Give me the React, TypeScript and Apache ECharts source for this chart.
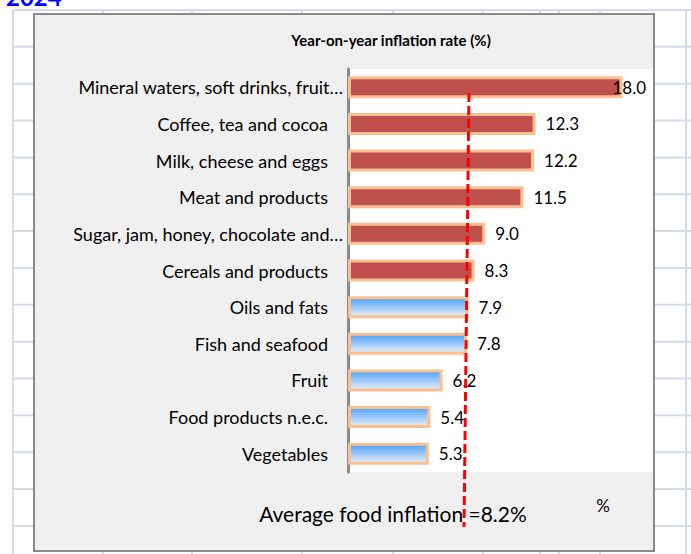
import React, { useEffect, useRef } from "react";
import * as echarts from "echarts";

const categories = [
  "Mineral waters, soft drinks, fruit…",
  "Coffee, tea and cocoa",
  "Milk, cheese and eggs",
  "Meat and products",
  "Sugar, jam, honey, chocolate and…",
  "Cereals and products",
  "Oils and fats",
  "Fish and seafood",
  "Fruit",
  "Food products n.e.c.",
  "Vegetables",
];
const values = [18.0, 12.3, 12.2, 11.5, 9.0, 8.3, 7.9, 7.8, 6.2, 5.4, 5.3];
const averageInflation = 8.2;
const chartTitle = "Year-on-year inflation rate (%)";
const footerText = `Average food inflation =${averageInflation.toFixed(1)}%`;
const unitText = "%";
const sheetTitle = "2024";

const FONT = "Lato, 'Open Sans', sans-serif";
const W = 691;
const H = 554;

export default function App() {
  const ref = useRef<HTMLDivElement>(null);
  useEffect(() => {
    if (!ref.current) return;
    const chart = echarts.init(ref.current, undefined, { renderer: "svg" });

    // spreadsheet background grid lines
    const gridColor = "#d5dce9";
    const rowYs: number[] = [];
    for (let i = 0; i < 15; i++) rowYs.push(10 + i * 36.85);
    const colXs = [13, 103, 192, 302, 393, 483, 540, 559, 600, 686];
    const bg: any[] = [];
    rowYs.forEach((y) =>
      bg.push({
        type: "line",
        z: 0,
        silent: true,
        shape: { x1: 13, y1: y, x2: W, y2: y },
        style: { stroke: gridColor, lineWidth: 2 },
      })
    );
    colXs.forEach((x) =>
      bg.push({
        type: "line",
        z: 0,
        silent: true,
        shape: { x1: x, y1: 10, x2: x, y2: H },
        style: { stroke: gridColor, lineWidth: 2 },
      })
    );

    const maxVal = Math.max(...values);
    const data = values.map((v) => {
      const above = v > averageInflation;
      return {
        value: v,
        itemStyle: {
          color: above
            ? "#c0504d"
            : new echarts.graphic.LinearGradient(0, 0, 0, 1, [
                { offset: 0, color: "#4aa2fb" },
                { offset: 1, color: "#eceef5" },
              ]),
        },
        label: v === maxVal ? { offset: [-20, 0] } : undefined,
      };
    });

    chart.setOption({
      animation: false,
      backgroundColor: "#ffffff",
      graphic: [
        ...bg,
        {
          type: "text",
          z: 0,
          silent: true,
          x: 6,
          y: 8,
          style: {
            text: sheetTitle,
            fill: "#0000ff",
            font: `bold 24px ${FONT}`,
            verticalAlign: "bottom",
          },
        },
        {
          type: "rect",
          z: 0,
          silent: true,
          shape: { x: 34, y: 14, width: 620, height: 537 },
          style: { fill: "#f0f0f0", stroke: "#8a8a8a", lineWidth: 2 },
        },
        {
          type: "text",
          z: 100,
          silent: true,
          x: 391,
          y: 40,
          style: {
            text: chartTitle,
            fill: "#000",
            font: `bold 15px ${FONT}`,
            align: "center",
            verticalAlign: "middle",
          },
        },
        {
          type: "text",
          z: 100,
          silent: true,
          x: 393,
          y: 513,
          style: {
            text: footerText,
            fill: "#000",
            font: `21px ${FONT}`,
            align: "center",
            verticalAlign: "middle",
          },
        },
        {
          type: "text",
          z: 100,
          silent: true,
          x: 603,
          y: 505,
          style: {
            text: unitText,
            fill: "#000",
            font: `17px ${FONT}`,
            align: "center",
            verticalAlign: "middle",
          },
        },
        {
          type: "line",
          z: 100,
          silent: true,
          shape: { x1: 469, y1: 93, x2: 464, y2: 527 },
          style: { stroke: "#ff0000", lineWidth: 3, lineDash: [9, 4] },
        },
      ],
      grid: {
        left: 348,
        top: 69,
        right: W - 653,
        bottom: H - 472,
        show: true,
        backgroundColor: "#ffffff",
        borderWidth: 0,
        z: 1,
      },
      xAxis: {
        type: "value",
        min: 0,
        max: 20,
        show: false,
        splitLine: { show: false },
      },
      yAxis: {
        type: "category",
        data: categories,
        inverse: true,
        z: 2,
        axisLine: { show: true, lineStyle: { color: "#8a8a8a", width: 3 } },
        axisTick: { show: false },
        axisLabel: {
          margin: 5,
          formatter: (v: string) => (v.endsWith("…") ? `{t|${v}}` : `{n|${v}}`),
          rich: {
            t: { fontSize: 18, fontFamily: FONT, color: "#000" },
            n: { fontSize: 18, fontFamily: FONT, color: "#000", padding: [0, 15, 0, 0] },
          },
        },
      },
      series: [
        {
          type: "bar",
          z: 3,
          data,
          barWidth: 22,
          itemStyle: { borderColor: "#fac090", borderWidth: 3 },
          label: {
            show: true,
            position: "right",
            distance: 10,
            color: "#000",
            fontSize: 17,
            fontFamily: FONT,
            formatter: (p: any) => Number(p.value).toFixed(1),
          },
        },
      ],
    });
    return () => chart.dispose();
  }, []);
  return (
    <div
      ref={ref}
      style={{ position: "absolute", left: 0, top: 0, width: W, height: H }}
    />
  );
}
